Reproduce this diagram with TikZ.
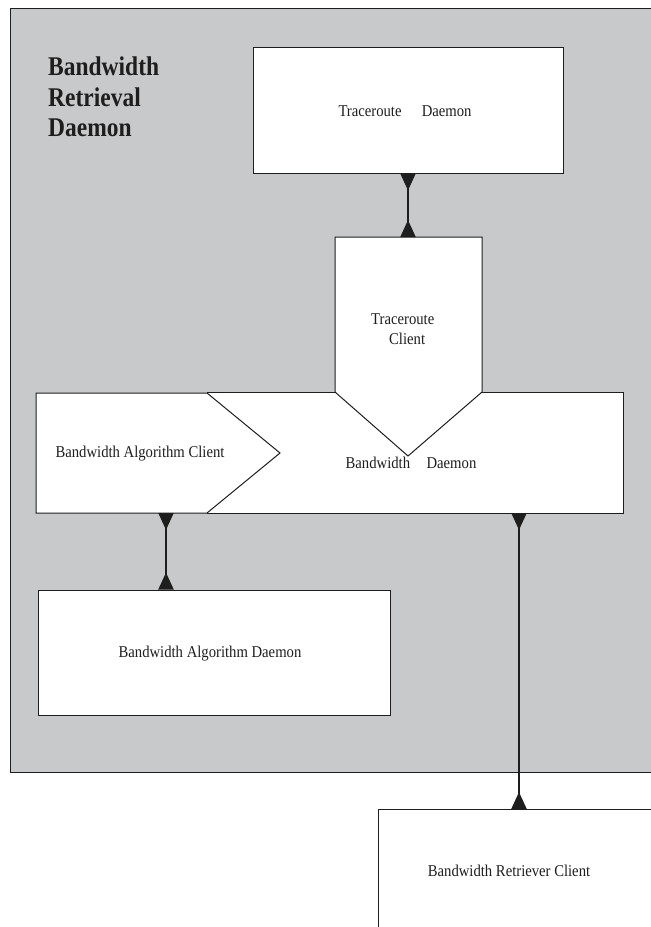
\documentclass[tikz,border=0pt]{standalone}
\usepackage{fontspec}
\setmainfont{Liberation Serif}
\newfontfamily\narrowserif[FakeStretch=0.89]{Liberation Serif}
\newfontfamily\titleserif[FakeStretch=0.87]{Liberation Serif}
\usetikzlibrary{arrows.meta}
\definecolor{panel}{RGB}{200,201,203}
\definecolor{ink}{RGB}{30,30,30}
\begin{document}
\begin{tikzpicture}[x=1pt,y=-1pt,
  box/.style={draw=ink, line width=1pt, fill=white},
  lbl/.style={font=\narrowserif\fontsize{16.5}{20}\selectfont, text=ink, inner sep=0pt},
  link/.style={draw=ink, line width=2pt, {Triangle[reversed,width=15pt,length=17pt]}-{Triangle[reversed,width=15pt,length=17pt]}}
]
\useasboundingbox (0,0) rectangle (651,927);

% grey enclosing panel
\fill[panel] (10,8) rectangle (651,772);
\draw[ink, line width=1pt] (651,8) -- (10,8) -- (10,772) -- (651,772);

% panel title
\node[anchor=north west, inner sep=0pt, align=left, text=ink,
      font=\titleserif\bfseries\fontsize{27}{30.5}\selectfont]
  (title) at (48,57) {Bandwidth\\Retrieval\\Daemon};

% traceroute daemon
\node[box, minimum width=310pt, minimum height=126pt] (td) at (408,110) {};
\node[lbl] (tdtext) at (405,111) {Traceroute\quad\ Daemon};

% bandwidth daemon
\node[box, minimum width=416pt, minimum height=121pt] (bd) at (415,452.5) {};
\node[lbl] (bdtext) at (411,463) {Bandwidth\quad Daemon};

% traceroute client (pointing down into the daemon)
\draw[box] (335,237) -- (482,237) -- (482,392) -- (408,456) -- (335,392) -- cycle;
\node[lbl, align=left, anchor=west] (tctext) at (371,329) {Traceroute\\\hspace*{18pt}Client};
\coordinate (tc-top) at (408,237);

% bandwidth algorithm client (pointing right into the daemon)
\draw[box] (36,393) -- (207,393) -- (280,453) -- (207,513) -- (36,513) -- cycle;
\node[lbl] (bactext) at (140,454) {Bandwidth Algorithm Client};
\coordinate (bac-port) at (166,513);

% bandwidth algorithm daemon
\node[box, minimum width=352pt, minimum height=125pt] (bad) at (214,652.5) {};
\node[lbl] (badtext) at (210,654) {Bandwidth Algorithm Daemon};

% bandwidth retriever client (runs off the page)
\fill[white] (378,809) rectangle (651,927);
\draw[ink, line width=1pt] (651,809) -- (378,809) -- (378,927);
\coordinate (brc-top) at (519,809);
\node[lbl] (brctext) at (509,871) {Bandwidth Retriever Client};
\coordinate (bd-port) at (519,513);

% connectors
\draw[link] (td.south) -- (tc-top);
\draw[link] (bac-port) -- (bac-port |- bad.north);
\draw[link] (bd-port) -- (brc-top);
\end{tikzpicture}
\end{document}
